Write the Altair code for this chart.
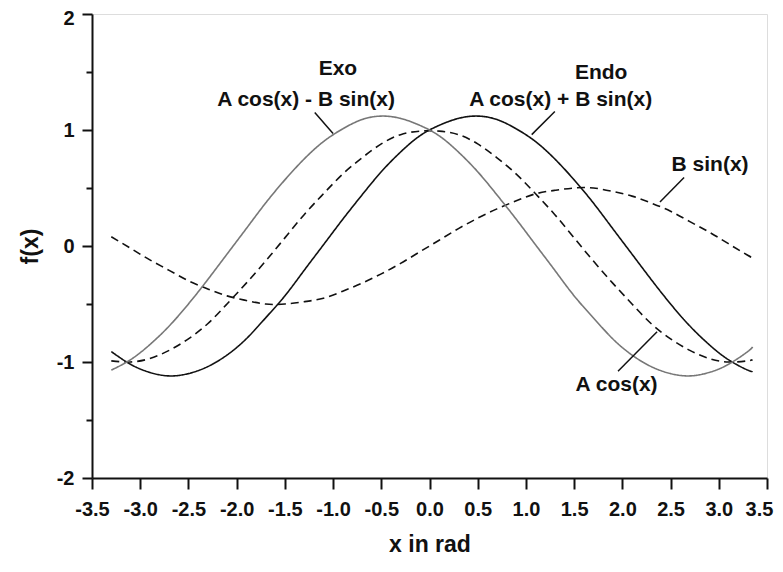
import altair as alt
import pandas as pd

# x positions (rad) at which the curves were read
x_vals = [-3.3, -3.1, -2.9, -2.7, -2.5, -2.3, -2.1, -1.9, -1.7, -1.5, -1.3, -1.1,
          -0.9, -0.7, -0.5, -0.3, -0.1, 0.1, 0.3, 0.5, 0.7, 0.9, 1.1, 1.3, 1.5,
          1.7, 1.9, 2.1, 2.3, 2.5, 2.7, 2.9, 3.1, 3.3, 3.35]

a_cos = [-0.99, -1.00, -0.97, -0.90, -0.80, -0.67, -0.50, -0.32, -0.13, 0.07, 0.27, 0.45,
         0.62, 0.76, 0.88, 0.96, 0.99, 0.99, 0.96, 0.88, 0.76, 0.62, 0.45, 0.27, 0.07,
         -0.13, -0.32, -0.50, -0.67, -0.80, -0.90, -0.97, -1.00, -0.99, -0.98]

b_sin = [0.08, -0.02, -0.12, -0.21, -0.30, -0.37, -0.43, -0.47, -0.50, -0.50, -0.48, -0.45,
         -0.39, -0.32, -0.24, -0.15, -0.05, 0.05, 0.15, 0.24, 0.32, 0.39, 0.45, 0.48, 0.50,
         0.50, 0.47, 0.43, 0.37, 0.30, 0.21, 0.12, 0.02, -0.08, -0.10]

endo = [-0.91, -1.02, -1.09, -1.12, -1.10, -1.04, -0.94, -0.80, -0.62, -0.43, -0.21, 0.01,
        0.23, 0.44, 0.64, 0.81, 0.95, 1.04, 1.10, 1.12, 1.09, 1.01, 0.90, 0.75, 0.57,
        0.37, 0.15, -0.07, -0.29, -0.50, -0.69, -0.85, -0.98, -1.07, -1.08]

exo = [-1.07, -0.98, -0.85, -0.69, -0.50, -0.29, -0.07, 0.15, 0.37, 0.57, 0.75, 0.90,
       1.01, 1.09, 1.12, 1.10, 1.04, 0.95, 0.81, 0.64, 0.44, 0.23, 0.01, -0.21, -0.43,
       -0.62, -0.80, -0.94, -1.04, -1.10, -1.12, -1.09, -1.02, -0.91, -0.87]

series_names = ["Acos", "Bsin", "Endo", "Exo"]
series_colors = ["#111111", "#111111", "#111111", "#777777"]
series_dash = [[8, 5], [8, 5], [1, 0], [1, 0]]

# tick values
x_ticks = [-3.5, -3.0, -2.5, -2.0, -1.5, -1.0, -0.5, 0.0, 0.5, 1.0, 1.5, 2.0, 2.5, 3.0, 3.5]
y_ticks = [-2, -1.5, -1, -0.5, 0, 0.5, 1, 1.5, 2]

# annotation labels
label_text = ["Exo", "A cos(x) - B sin(x)", "Endo", "A cos(x) + B sin(x)", "B sin(x)", "A cos(x)"]
label_x = [-0.95, -1.28, 1.78, 1.36, 2.91, 1.94]
label_y = [1.53, 1.26, 1.49, 1.26, 0.70, -1.20]

# leader lines
lead_x1 = [-1.19, 1.30, 2.64, 1.955]
lead_y1 = [1.15, 1.16, 0.59, -1.08]
lead_x2 = [-1.00, 1.06, 2.39, 2.36]
lead_y2 = [0.97, 0.96, 0.38, -0.74]

rows = []
for name, ys in zip(series_names, [a_cos, b_sin, endo, exo]):
    for xv, yv in zip(x_vals, ys):
        rows.append({"x": xv, "y": yv, "series": name})
df = pd.DataFrame(rows)

labels = pd.DataFrame({"text": label_text, "x": label_x, "y": label_y})
leads = pd.DataFrame({"x": lead_x1, "y": lead_y1, "x2": lead_x2, "y2": lead_y2})

FONT = "Liberation Sans"
INK = "#111111"

xscale = alt.Scale(domain=[-3.5, 3.5], nice=False, zero=False)
yscale = alt.Scale(domain=[-2, 2], nice=False, zero=False)

x_axis = alt.Axis(
    values=x_ticks,
    labelExpr="(datum.value < 0 ? '-' : '') + format(abs(datum.value), '.1f')",
    labelOffset={"condition": {"test": "datum.value > 3.4", "value": -8}, "value": 0},
    grid=False, tickSize=11, tickWidth=2, domainWidth=2,
    domainColor=INK, tickColor=INK, labelColor=INK,
    labelFont=FONT, labelFontSize=20, labelFontWeight="bold", labelPadding=10,
    labelFlush=False, labelOverlap=False,
    title="x in rad", titleFont=FONT, titleFontSize=23, titleFontWeight="bold",
    titlePadding=14, titleColor=INK,
)
y_axis = alt.Axis(
    values=y_ticks,
    labelExpr="datum.value % 1 === 0 ? ((datum.value < 0 ? '-' : '') + format(abs(datum.value), 'd')) : ''",
    grid=False,
    tickSize={"condition": {"test": "datum.value % 1 === 0", "value": 10}, "value": 6},
    labelOffset={"condition": {"test": "datum.value === 2", "value": 4}, "value": 0},
    tickWidth=2, domainWidth=2,
    domainColor=INK, tickColor=INK, labelColor=INK,
    labelFont=FONT, labelFontSize=20, labelFontWeight="bold", labelPadding=8,
    labelFlush=False, labelOverlap=False,
    title="f(x)", titleFont=FONT, titleFontSize=23, titleFontWeight="bold",
    titlePadding=14, titleColor=INK,
)

lines = alt.Chart(df).mark_line(interpolate="natural", strokeWidth=1.6, clip=False).encode(
    x=alt.X("x:Q", scale=xscale, axis=x_axis),
    y=alt.Y("y:Q", scale=yscale, axis=y_axis),
    color=alt.Color("series:N", scale=alt.Scale(domain=series_names, range=series_colors), legend=None),
    strokeDash=alt.StrokeDash("series:N", scale=alt.Scale(domain=series_names, range=series_dash), legend=None),
    detail="series:N",
)

rules = alt.Chart(leads).mark_rule(color=INK, strokeWidth=1.5).encode(
    x="x:Q", y="y:Q", x2="x2:Q", y2="y2:Q"
)

texts = alt.Chart(labels).mark_text(
    font=FONT, fontSize=21, fontWeight="bold", color=INK, align="center", baseline="middle"
).encode(x="x:Q", y="y:Q", text="text:N")

chart = alt.layer(lines, rules, texts).properties(
    width=675, height=464,
    autosize=alt.AutoSizeParams(type="none"),
    padding={"left": 84, "top": 6, "right": 8, "bottom": 82},
).configure_view(stroke=None).configure(background="white")

chart.save("out.html", embed_options={"renderer": "svg", "actions": False})
